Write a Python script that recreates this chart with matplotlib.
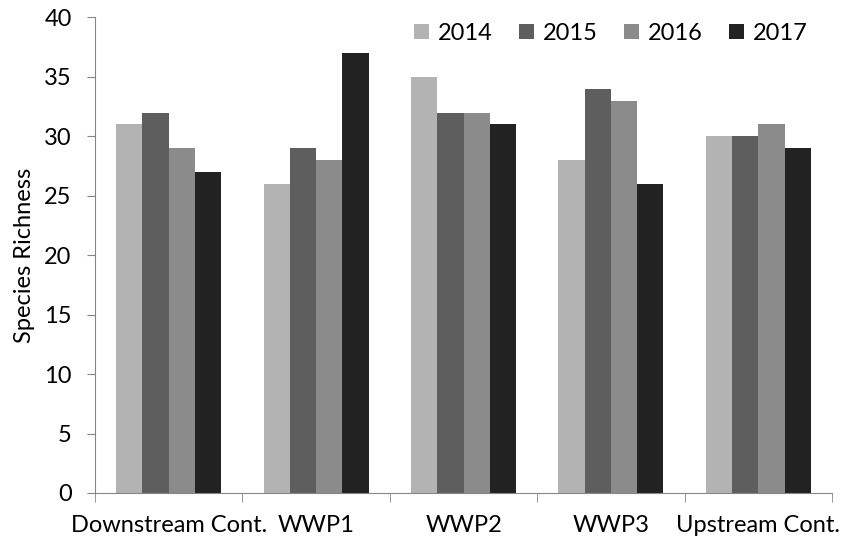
import numpy as np
import matplotlib.pyplot as plt

plt.rcParams['font.family'] = ['Lato', 'DejaVu Sans']

# categorias e valores
sites = ['Downstream Cont.', 'WWP1', 'WWP2', 'WWP3', 'Upstream Cont.']
years = ['2014', '2015', '2016', '2017']
v2014 = [31, 26, 35, 28, 30]
v2015 = [32, 29, 32, 34, 30]
v2016 = [29, 28, 32, 33, 31]
v2017 = [27, 37, 31, 26, 29]
cores = ['#b3b3b3', '#5e5e5e', '#8b8b8b', '#222222']

fig = plt.figure(figsize=(8.44, 5.46), dpi=100)
ax = fig.add_axes([0.1126, 0.0971, 0.8732, 0.8709])

x = np.arange(len(sites))
w = 0.178
series = [v2014, v2015, v2016, v2017]
for i, vals in enumerate(series):
    ax.bar(x + (i - 1.5) * w, vals, w, color=cores[i], label=years[i])

ax.set_xlim(-0.5, 4.5)
ax.set_ylim(0, 40)
ax.set_yticks(range(0, 41, 5))
ax.set_xticks(x)
ax.set_xticklabels(sites)
# marcas entre as categorias (estilo Excel)
ax.set_xticks(np.arange(-0.5, 5, 1), minor=True)
ax.tick_params(axis='x', which='major', length=0, pad=16, labelsize=17)
ax.tick_params(axis='x', which='minor', length=6.5, color='#868686', direction='out')
ax.tick_params(axis='y', length=5.8, color='#868686', labelsize=17, pad=11)

for s in ['top', 'right']:
    ax.spines[s].set_visible(False)
for s in ['left', 'bottom']:
    ax.spines[s].set_color('#868686')

ax.set_ylabel('Species Richness', fontsize=17)
ax.yaxis.set_label_coords(-0.081, 0.5)
ax.legend(loc='center', ncol=4, frameon=False, fontsize=17,
          handlelength=0.64, handleheight=0.64, handletextpad=0.38,
          columnspacing=1.1, bbox_to_anchor=(0.70, 0.967))

plt.savefig('out.png', dpi=100)
